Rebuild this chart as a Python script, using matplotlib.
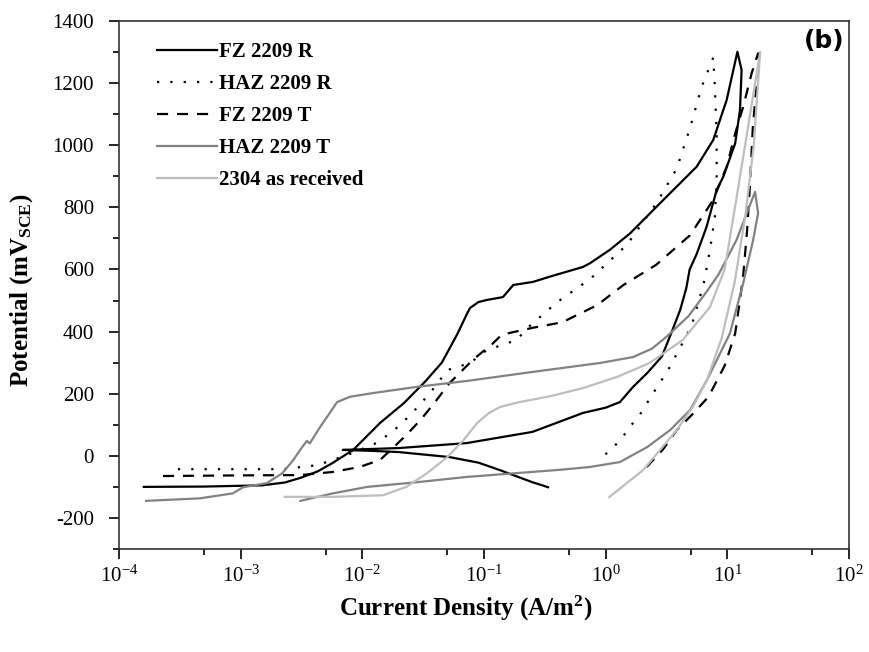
"""
## Cyclic polarisation curves of 2209 weld zones and 2304 base metal.
## Potential against current density on a log axis, panel (b).
"""

import numpy as np
import matplotlib
matplotlib.use('Agg')
import matplotlib.pyplot as plt
from matplotlib.ticker import FixedLocator, MultipleLocator, NullFormatter

## Curve data: current density (A/m2) and potential (mV).
## Each curve is one path: forward scan up to the vertex, then the reverse scan.
fzr_j = [1.6e-4, 5e-4, 1.5e-3, 2.3e-3, 3.1e-3, 4.3e-3, 5.7e-3, 8.4e-3, 0.014, 0.022,
         0.033, 0.045, 0.06, 0.072, 0.0767, 0.09, 0.106, 0.143, 0.174, 0.253,
         0.348, 0.65, 0.743, 1.08, 1.585, 2.98, 5.6, 7.66, 9.88, 12.1,
         13.1, 12.7, 11.6, 9.27, 8.17, 6.76, 5.6, 4.9, 4.6, 4.1, 3.5, 2.9, 2.2,
         1.68, 1.31, 1.0, 0.65, 0.25, 0.072, 0.02, 0.0069,
         0.012, 0.02, 0.052, 0.09, 0.135, 0.25, 0.336]
fzr_e = [-100, -99, -95, -86, -71, -50, -23, 19, 106, 170,
         240, 300, 390, 455, 476, 495, 502, 511, 550, 560,
         577, 608, 620, 663, 716, 824, 931, 1017, 1146, 1301,
         1242, 1113, 1006, 899, 856, 738, 650, 600, 540, 470, 400, 320, 267,
         222, 173, 155, 138, 77, 41, 25, 19,
         16, 12, -4, -22, -46, -85, -101]

hazr_j = [3.05e-4, 1e-3, 2.2e-3, 4.3e-3, 8.3e-3, 0.013, 0.017, 0.0204, 0.0257, 0.036,
          0.05, 0.077, 0.105, 0.186, 0.225, 0.4, 0.75, 1.5, 2.63, 3.84, 4.93, 6.15, 7.66,
          7.9, 8.17, 8.17, 7.9, 7.2, 6.4, 5.1, 4.07, 3.26, 2.46, 1.9, 1.58, 1.36, 1.12, 0.9]
hazr_e = [-43, -43, -43, -30, 9, 41, 73, 99, 138, 202,
          276, 299, 340, 373, 410, 495, 570, 680, 815, 925, 1055, 1188, 1282,
          1188, 1038, 888, 770, 663, 555, 420, 347, 276, 202, 131, 93, 57, 22, -10]

fzt_j = [2.3e-4, 1e-3, 3.1e-3, 5.7e-3, 9.5e-3, 0.014, 0.0178, 0.023, 0.03, 0.038,
         0.052, 0.081, 0.119, 0.14, 0.25, 0.44, 0.85, 1.4, 2.6, 4.93, 7.66, 9.88,
         11.6, 13.5, 15.85, 17.9,
         18.2, 17.0, 16.2, 15.3, 14.5, 13.5, 12.7, 11.6, 9.5, 7.0, 5.2, 3.84, 2.95, 2.1]
fzt_e = [-65, -63, -62, -52, -36, -13, 25, 67, 115, 164,
         234, 309, 363, 390, 412, 430, 485, 550, 615, 710, 824, 931,
         1038, 1124, 1232, 1296,
         1260, 1150, 1058, 865, 720, 580, 502, 394, 290, 190, 135, 83, 20, -42]

hazt_j = [1.67e-4, 4.6e-4, 8.6e-4, 1.05e-3, 1.64e-3, 2.2e-3, 2.7e-3, 3.2e-3, 3.5e-3, 3.7e-3,
          4.5e-3, 5.4e-3, 6.2e-3, 7.9e-3, 0.0122, 0.028, 0.072, 0.25, 0.9, 1.68, 2.4,
          3.2, 4.8, 6.8, 8.5, 11.9, 16.9,
          17.9, 16.3, 13.5, 10.5, 6.8, 4.93, 3.39, 2.19, 1.31, 0.74, 0.42, 0.072,
          0.028, 0.011, 5.7e-3, 3.1e-3]
hazt_e = [-145, -137, -121, -101, -88, -56, -14, 28, 48, 40,
          93, 138, 173, 190, 202, 222, 241, 270, 299, 318, 345,
          385, 450, 530, 585, 695, 850,
          781, 695, 555, 394, 244, 147, 83, 28, -20, -36, -45, -68,
          -85, -100, -121, -145]

ar_j = [2.3e-3, 5.7e-3, 0.0148, 0.023, 0.034, 0.05, 0.068, 0.088, 0.11, 0.135,
        0.19, 0.35, 0.65, 1.24, 2.3, 4.3, 7.2, 9.5, 11.2, 14.0, 18.6,
        16.5, 14.0, 11.5, 9.0, 6.8, 5.2, 3.84, 2.03, 1.07]
ar_e = [-132, -132, -127, -100, -56, -4, 51, 106, 138, 157,
        172, 192, 218, 254, 299, 373, 479, 600, 768, 1000, 1300,
        1000, 768, 560, 380, 244, 157, 83, -46, -133]

names = ['FZ 2209 R', 'HAZ 2209 R', 'FZ 2209 T', 'HAZ 2209 T', '2304 as received']

## Axis ticks and their labels.
xticks = [1e-4, 1e-3, 1e-2, 1e-1, 1e0, 1e1, 1e2]
xtlabs = [r'$10^{-4}$', r'$10^{-3}$', r'$10^{-2}$', r'$10^{-1}$',
          r'$10^{0}$', r'$10^{1}$', r'$10^{2}$']
xminor = [5e-4, 5e-3, 5e-2, 5e-1, 5e0, 5e1]

def main():

## Times-like fonts throughout, 10^n tick labels in the same face.
    plt.rcParams['font.family'] = ['Liberation Serif', 'DejaVu Serif']
    plt.rcParams['mathtext.fontset'] = 'custom'
    plt.rcParams['mathtext.rm'] = 'Liberation Serif'
    plt.rcParams['mathtext.bf'] = 'Liberation Serif:bold'
    plt.rcParams['mathtext.it'] = 'Liberation Serif:italic'
    plt.rcParams['axes.unicode_minus'] = False

    fig = plt.figure(figsize=(8.69, 6.52), dpi=100)
    ax = fig.add_axes([119/869, 1-549/652, 730/869, 528/652])

## Line styles for the five curves.
    curves = [(fzr_j, fzr_e, 'k', '-'),
              (hazr_j, hazr_e, 'k', (0, (1.0, 5.0))),
              (fzt_j, fzt_e, 'k', (0, (5.0, 4.0))),
              (hazt_j, hazt_e, '#828282', '-'),
              (ar_j, ar_e, '#bebebe', '-')]
    for (cj, ce, cl, ls), nm in zip(curves, names):
        ax.plot(cj, ce, color=cl, linestyle=ls, linewidth=1.6, label=nm)

    ax.set_xscale('log')
    ax.set_xlim(1e-4, 1e2)
    ax.set_ylim(-300, 1400)

## Major ticks every decade and every 200 mV, minor at 5x10^n and 100 mV.
    ax.xaxis.set_major_locator(FixedLocator(xticks))
    ax.set_xticklabels(xtlabs)
    ax.xaxis.set_minor_locator(FixedLocator(xminor))
    ax.xaxis.set_minor_formatter(NullFormatter())
    ax.yaxis.set_major_locator(MultipleLocator(200))
    ax.yaxis.set_minor_locator(MultipleLocator(100))
    ax.tick_params(which='both', direction='out', top=False, right=False,
                   width=1.2, labelsize=15)
    ax.tick_params(axis='y', which='major', pad=11)
    ax.tick_params(axis='x', which='major', pad=5)
    ax.tick_params(which='major', length=7)
    ax.tick_params(which='minor', length=4)
    for sp in ax.spines.values():
        sp.set_linewidth(1.2)
        sp.set_color('#333333')

    ax.set_xlabel(r'Current Density (A/m$^{\mathbf{2}}$)', fontsize=18,
                  fontweight='bold')
    ax.xaxis.set_label_coords(0.475, -0.085)
    ax.set_ylabel(r'Potential (mV$_{\mathbf{SCE}}$)', fontsize=18,
                  fontweight='bold')
    ax.yaxis.set_label_coords(-0.115, 0.49)

## Legend without frame in the upper left corner.
    ax.legend(loc='upper left', bbox_to_anchor=(0.052, 0.960), frameon=False,
              prop={'weight': 'bold', 'size': 15}, handlelength=2.9,
              handletextpad=0.1, labelspacing=0.58, borderpad=0.0,
              borderaxespad=0.0)

    ax.text(0.994, 0.985, '(b)', transform=ax.transAxes, ha='right', va='top',
            fontsize=18, fontweight='bold', family=['DejaVu Sans'])

    fig.savefig('out.png', dpi=100, facecolor='w')

if __name__ == '__main__':
    main()
